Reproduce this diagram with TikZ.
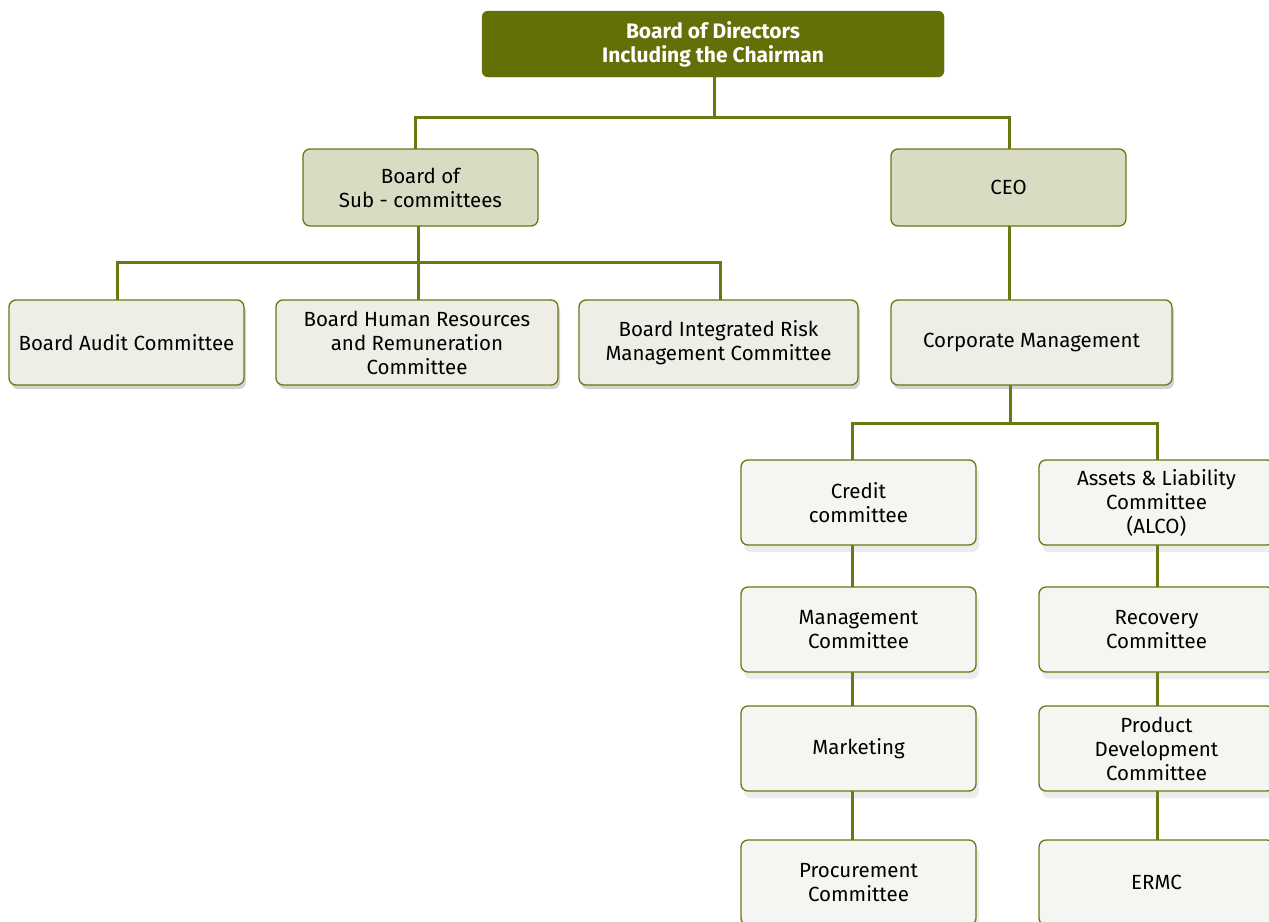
\documentclass[tikz,border=0pt]{standalone}
\usepackage{fontspec}
\setmainfont{Fira Sans}
\usetikzlibrary{shadows}
\definecolor{olivedark}{HTML}{646F08}
\definecolor{oliveline}{HTML}{6C7712}
\definecolor{midfill}{HTML}{D9DBC2}
\definecolor{lightfill}{HTML}{EEEEE6}
\definecolor{palefill}{HTML}{F5F6F1}
\tikzset{
  every node/.style={font=\fontsize{20.5}{24}\selectfont, align=center, inner sep=0pt},
  topbox/.style={draw=olivedark, fill=olivedark, rounded corners=6pt, text=white, font=\fontsize{21}{24}\selectfont\bfseries},
  midbox/.style={draw=oliveline, line width=1.3pt, fill=midfill, rounded corners=7pt},
  lightbox/.style={draw=oliveline, line width=1.3pt, fill=lightfill, rounded corners=7pt,
     drop shadow={opacity=0.35, shadow xshift=2pt, shadow yshift=-4pt}},
  palebox/.style={draw=oliveline, line width=1.3pt, fill=palefill, rounded corners=7pt,
     drop shadow={opacity=0.15, shadow xshift=3pt, shadow yshift=-7pt}},
  link/.style={draw=oliveline, line width=3pt},
}
\begin{document}
\begin{tikzpicture}[x=1pt,y=-1pt]
\useasboundingbox (0,0) rectangle (1269,921);
\clip (0,0) rectangle (1269,921);
\fill[white] (0,0) rectangle (1269,921);

% junction and end points of the connectors
\coordinate (topb) at (714,77);
\coordinate (j1) at (714,117);
\coordinate (subt) at (415,149);
\coordinate (ceot) at (1009,149);
\coordinate (subb) at (418,226);
\coordinate (j2) at (418,262);
\coordinate (auditt) at (117,300);
\coordinate (hrt) at (418,300);
\coordinate (riskt) at (720,300);
\coordinate (ceob) at (1009,226);
\coordinate (corpt) at (1009,300);
\coordinate (corpb) at (1010,385);
\coordinate (j3) at (1010,423);
\coordinate (credt) at (852,460);
\coordinate (alcot) at (1157,460);
\coordinate (leftend) at (852,900);
\coordinate (rightend) at (1157,900);
\coordinate (credb) at (852,545);
\coordinate (alcob) at (1157,545);

\draw[link] (topb) -- (j1) -| (subt);
\draw[link] (j1) -| (ceot);
\draw[link] (subb) -- (j2) -| (auditt);
\draw[link] (j2) -- (hrt);
\draw[link] (j2) -| (riskt);
\draw[link] (ceob) -- (corpt);
\draw[link] (corpb) -- (j3) -| (credt);
\draw[link] (j3) -| (alcot);
\draw[link] (credb) -- (leftend);
\draw[link] (alcob) -- (rightend);

\node[topbox, minimum width=462pt, minimum height=66pt] (top) at (713,44) {Board of Directors\\Including the Chairman};
\node[midbox, minimum width=235pt, minimum height=77pt] (sub) at (420.5,187.5) {Board of\\Sub - committees};
\node[midbox, minimum width=235pt, minimum height=77pt] (ceo) at (1008.5,187.5) {CEO};

\node[lightbox, minimum width=235pt, minimum height=85pt] (audit) at (126.5,342.5) {Board Audit Committee};
\node[lightbox, minimum width=282pt, minimum height=85pt] (hr) at (417,342.5) {Board Human Resources\\and Remuneration\\Committee};
\node[lightbox, minimum width=279pt, minimum height=85pt] (risk) at (718.5,342.5) {Board Integrated Risk\\Management Committee};
\node[lightbox, minimum width=281pt, minimum height=85pt] (corp) at (1031.5,342.5) {Corporate Management};

\node[palebox, minimum width=235pt, minimum height=85pt] (credit) at (858.5,502.5) {Credit\\committee};
\node[palebox, minimum width=235pt, minimum height=85pt] (alco) at (1156.5,502.5) {Assets \& Liability\\Committee\\(ALCO)};
\node[palebox, minimum width=235pt, minimum height=85pt] (mgmt) at (858.5,629.5) {Management\\Committee};
\node[palebox, minimum width=235pt, minimum height=85pt] (recov) at (1156.5,629.5) {Recovery\\Committee};
\node[palebox, minimum width=235pt, minimum height=85pt] (mkt) at (858.5,748.5) {Marketing};
\node[palebox, minimum width=235pt, minimum height=85pt] (prod) at (1156.5,748.5) {Product\\Development\\Committee};
\node[palebox, minimum width=235pt, minimum height=85pt] (proc) at (858.5,882.5) {Procurement\\Committee};
\node[palebox, minimum width=235pt, minimum height=85pt] (ermc) at (1156.5,882.5) {ERMC};
\end{tikzpicture}
\end{document}
